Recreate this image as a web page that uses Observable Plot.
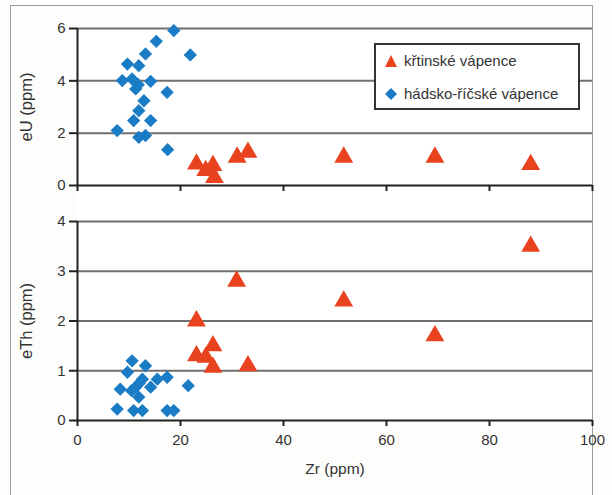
<!DOCTYPE html>
<html>
<head>
<meta charset="utf-8">
<script src="https://cdn.jsdelivr.net/npm/d3@7"></script>
<script src="https://cdn.jsdelivr.net/npm/@observablehq/plot@0.6"></script>
<style>
  html, body { margin: 0; padding: 0; background: #fdfdfb; }
  #wrap { position: relative; width: 612px; height: 495px; overflow: hidden; font-family: "Liberation Sans", Arial, sans-serif; }
  #frame { position: absolute; left: 10px; top: 5px; width: 581px; height: 500px; border-left: 1.5px solid #9a9a9a; border-top: 1.5px solid #9a9a9a; border-right: 1.5px solid #9a9a9a; }
  #bg { position: absolute; left: 77px; top: 28px; width: 515px; height: 392px; background: #fff; }
  .panel { position: absolute; left: 0; }
  #legend { position: absolute; left: 374px; top: 43px; width: 202px; height: 63px; border: 2px solid #333; background: #fff; font-size: 15px; color: #333; }
  #legend .row { position: absolute; left: 8px; display: flex; align-items: center; gap: 6px; }
</style>
</head>
<body>
<div id="wrap">
  <div id="frame"></div>
  <div id="bg"></div>
  <div id="panelTop" class="panel" style="top:0"></div>
  <div id="panelBottom" class="panel" style="top:200px"></div>
  <div id="legend"></div>
</div>
<script>
// Series names
const seriesNames = ["křtinské vápence", "hádsko-říčské vápence"];
const seriesColors = ["#e8421e", "#1b7cc6"];

// Top panel: eU vs Zr
const zrRedTop = [23.1, 24.9, 26.3, 26.6, 31.0, 33.1, 51.7, 69.4, 88.0];
const euRed    = [0.82, 0.57, 0.76, 0.30, 1.08, 1.27, 1.08, 1.08, 0.80];
const zrBlueTop = [18.7, 15.3, 21.9, 13.2, 11.9, 9.7, 8.7, 10.6, 14.2, 11.3, 17.4, 12.9, 11.9, 10.9, 14.2, 7.7, 11.9, 13.2, 17.5, 11.8];
const euBlue    = [5.92, 5.51, 4.99, 5.03, 4.58, 4.64, 4.01, 4.07, 3.98, 3.69, 3.56, 3.24, 2.86, 2.48, 2.48, 2.10, 1.84, 1.91, 1.37, 3.85];

// Bottom panel: eTh vs Zr
const zrRedBot = [88.0, 30.9, 51.7, 23.1, 69.4, 26.3, 23.1, 24.9, 26.3, 33.1];
const ethRed   = [3.50, 2.80, 2.40, 2.00, 1.70, 1.50, 1.30, 1.27, 1.07, 1.10];
const zrBlueBot = [10.6, 13.2, 9.7, 12.6, 17.4, 15.5, 8.3, 11.3, 14.2, 11.9, 21.5, 7.7, 10.9, 12.6, 17.4, 18.7, 10.5, 12.0];
const ethBlue   = [1.20, 1.10, 0.97, 0.83, 0.87, 0.83, 0.63, 0.67, 0.67, 0.47, 0.70, 0.23, 0.20, 0.20, 0.20, 0.20, 0.60, 0.75];

const xTicks = [0, 20, 40, 60, 80, 100];
const yTicksTop = [0, 2, 4, 6];
const yTicksBot = [0, 1, 2, 3, 4];

const zip = (xs, ys) => xs.map((x, i) => ({x, y: ys[i]}));

const axisCol = "#222";
const gridCol = "#707070";

function panel({height, marginTop, marginBottom, yDomain, yTicks, yLabel, red, blue, bottom}) {
  return Plot.plot({
    width: 612, height,
    marginLeft: 77, marginRight: 20, marginTop, marginBottom,
    style: {background: "transparent", fontFamily: "Liberation Sans, Arial, sans-serif", color: "#333"},
    x: {domain: [0, 100]},
    y: {domain: yDomain},
    marks: [
      Plot.ruleY(yTicks.slice(1), {stroke: gridCol, strokeWidth: 2}),
      Plot.ruleY([yDomain[0]], {stroke: axisCol, strokeWidth: 2}),
      Plot.ruleX([0], {stroke: axisCol, strokeWidth: 2}),
      Plot.axisY({ticks: yTicks, tickSize: 8, tickPadding: 4, fontSize: 15, stroke: axisCol, strokeWidth: 2, tickFormat: d3.format("d"),
        label: yLabel, labelAnchor: "center", labelOffset: 57, labelArrow: "none"}),
      bottom
        ? Plot.axisX({ticks: xTicks, tickSize: 6, tickPadding: 8, fontSize: 15, stroke: axisCol, strokeWidth: 2, tickFormat: d3.format("d"),
            label: "Zr (ppm)", labelAnchor: "center", labelOffset: 53, labelArrow: "none"})
        : Plot.axisX({ticks: xTicks, tickSize: 6, tickFormat: () => "", stroke: axisCol, strokeWidth: 2, label: null}),
      Plot.dot(blue, {x: "x", y: "y", symbol: "diamond2", r: 6, fill: seriesColors[1], stroke: "none"}),
      Plot.dot(red, {x: "x", y: "y", symbol: "triangle", r: 7, fill: seriesColors[0], stroke: "none"})
    ]
  });
}

const plotTop = panel({height: 200, marginTop: 28, marginBottom: 15, yDomain: [0, 6], yTicks: yTicksTop,
  yLabel: "eU (ppm)", red: zip(zrRedTop, euRed), blue: zip(zrBlueTop, euBlue), bottom: false});
const plotBot = panel({height: 295, marginTop: 21, marginBottom: 75, yDomain: [0, 4], yTicks: yTicksBot,
  yLabel: "eTh (ppm)", red: zip(zrRedBot, ethRed), blue: zip(zrBlueBot, ethBlue), bottom: true});

for (const svg of [plotTop, plotBot]) {
  svg.querySelectorAll("g[aria-label='y-axis label'] text").forEach(t => t.setAttribute("font-size", 16.5));
  svg.querySelectorAll("g[aria-label='x-axis label'] text").forEach(t => t.setAttribute("font-size", 15.5));
}
document.getElementById("panelTop").appendChild(plotTop);
document.getElementById("panelBottom").appendChild(plotBot);

// Legend
const legend = document.getElementById("legend");
const glyphs = [
  '<svg width="14" height="14"><path d="M7,1 L13,13 L1,13 Z" fill="' + seriesColors[0] + '"/></svg>',
  '<svg width="14" height="14"><path d="M7,1 L13,7 L7,13 L1,7 Z" fill="' + seriesColors[1] + '"/></svg>'
];
seriesNames.forEach((name, i) => {
  const row = document.createElement("div");
  row.className = "row";
  row.style.top = (i === 0 ? 7 : 40) + "px";
  row.innerHTML = glyphs[i] + '<span>' + name + '</span>';
  legend.appendChild(row);
});
</script>
</body>
</html>
